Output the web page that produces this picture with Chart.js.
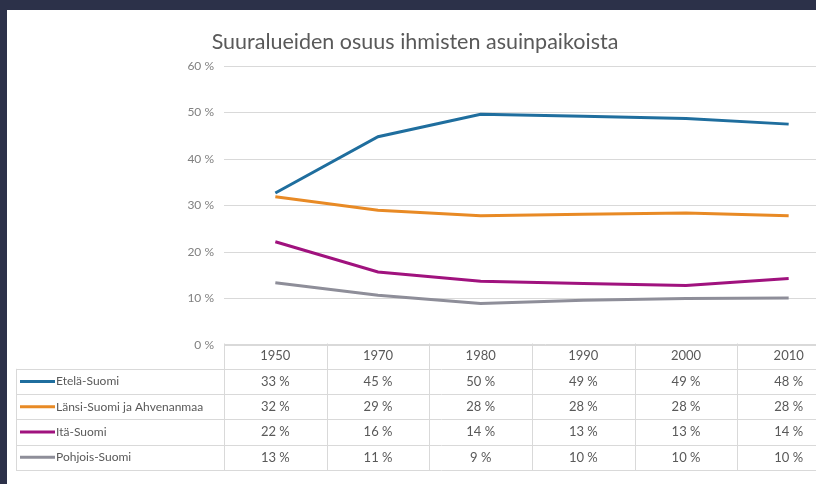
<!DOCTYPE html>
<html>
<head>
<meta charset="utf-8">
<script src="https://cdn.jsdelivr.net/npm/chart.js@4.4.1/dist/chart.umd.min.js"></script>
<style>
  html, body { margin: 0; padding: 0; width: 816px; height: 484px; overflow: hidden; background: #2c3149; }
  #wrap { position: absolute; left: 7px; top: 10px; width: 860px; height: 474px; background: #ffffff; }
</style>
</head>
<body>
<div id="wrap"><canvas id="chart" width="860" height="474"></canvas></div>
<script>
const title = 'Suuralueiden osuus ihmisten asuinpaikoista'
const years = ['1950', '1970', '1980', '1990', '2000', '2010']
const seriesNames = ['Etelä-Suomi', 'Länsi-Suomi ja Ahvenanmaa', 'Itä-Suomi', 'Pohjois-Suomi']
const seriesColors = ['#1f6e9e', '#e88a25', '#a0127e', '#8e8e99']
const etela = [32.7, 44.8, 49.6, 49.2, 48.7, 47.5]
const lansi = [31.9, 29.0, 27.8, 28.1, 28.4, 27.8]
const ita = [22.2, 15.7, 13.7, 13.2, 12.8, 14.3]
const pohjois = [13.4, 10.7, 8.9, 9.6, 10.0, 10.1]
const allSeries = [etela, lansi, ita, pohjois]

const FONT = 'Lato, "Open Sans", sans-serif'
const textColor = '#595959'
const lineColor = '#d9d9d9'

// title + data table under the plot, laid out from the x scale
const tablePlugin = {
  id: 'dataTable',
  afterDraw(chart) {
    const ctx = chart.ctx
    const ca = chart.chartArea
    const xs = chart.scales.x
    const colW = (ca.right - ca.left) / years.length
    const top = ca.bottom - 1.5
    const rowH = 25.3
    const labelLeft = 9
    const right = chart.width

    ctx.save()
    // title
    ctx.fillStyle = textColor
    ctx.font = '21.5px ' + FONT
    ctx.textAlign = 'center'
    ctx.textBaseline = 'middle'
    ctx.fillText(title, 408, 32)

    // grid of the table
    ctx.strokeStyle = lineColor
    ctx.lineWidth = 1
    ctx.beginPath()
    for (let k = 0; k <= allSeries.length + 1; k++) {
      const y = Math.round(top + k * rowH) + 0.5
      ctx.moveTo(k === 0 ? ca.left : labelLeft, y)
      ctx.lineTo(right, y)
    }
    for (let i = 0; i <= years.length; i++) {
      const x = Math.round(ca.left + i * colW) + 0.5
      ctx.moveTo(x, top)
      ctx.lineTo(x, top + (allSeries.length + 1) * rowH)
    }
    ctx.moveTo(labelLeft + 0.5, top + rowH)
    ctx.lineTo(labelLeft + 0.5, top + (allSeries.length + 1) * rowH)
    ctx.stroke()

    // header row
    ctx.font = '13px ' + FONT
    ctx.fillStyle = textColor
    ctx.textAlign = 'center'
    years.forEach((yr, i) => {
      ctx.fillText(yr, xs.getPixelForValue(i), top + rowH / 2)
    })

    // series rows
    allSeries.forEach((vals, s) => {
      const cy = top + (s + 1.5) * rowH
      ctx.strokeStyle = seriesColors[s]
      ctx.lineWidth = 3
      ctx.beginPath()
      ctx.moveTo(13, cy)
      ctx.lineTo(48, cy)
      ctx.stroke()
      ctx.fillStyle = textColor
      ctx.textAlign = 'left'
      ctx.font = '12px ' + FONT
      ctx.fillText(seriesNames[s], 49, cy)
      ctx.textAlign = 'center'
      ctx.font = '13px ' + FONT
      vals.forEach((v, i) => {
        ctx.fillText(Math.round(v) + ' %', xs.getPixelForValue(i), cy)
      })
    })
    ctx.restore()
  }
}

new Chart(document.getElementById('chart'), {
  type: 'line',
  data: {
    labels: years,
    datasets: allSeries.map((vals, s) => ({
      label: seriesNames[s],
      data: vals,
      borderColor: seriesColors[s],
      backgroundColor: seriesColors[s],
      borderWidth: 3,
      pointRadius: 0,
      tension: 0
    }))
  },
  options: {
    responsive: false,
    animation: false,
    layout: { padding: { top: 56, bottom: 139, left: 0, right: 27 } },
    plugins: {
      legend: { display: false },
      title: { display: false },
      tooltip: { enabled: false }
    },
    scales: {
      x: { type: 'category', display: false, offset: true },
      y: {
        min: 0,
        max: 60,
        ticks: {
          stepSize: 10,
          padding: 10,
          color: '#808080',
          font: { family: FONT, size: 12 },
          callback: v => v + ' %'
        },
        grid: { color: lineColor, drawTicks: false },
        border: { display: false },
        afterFit: s => { s.width = 217 }
      }
    }
  },
  plugins: [tablePlugin]
})
</script>
</body>
</html>
